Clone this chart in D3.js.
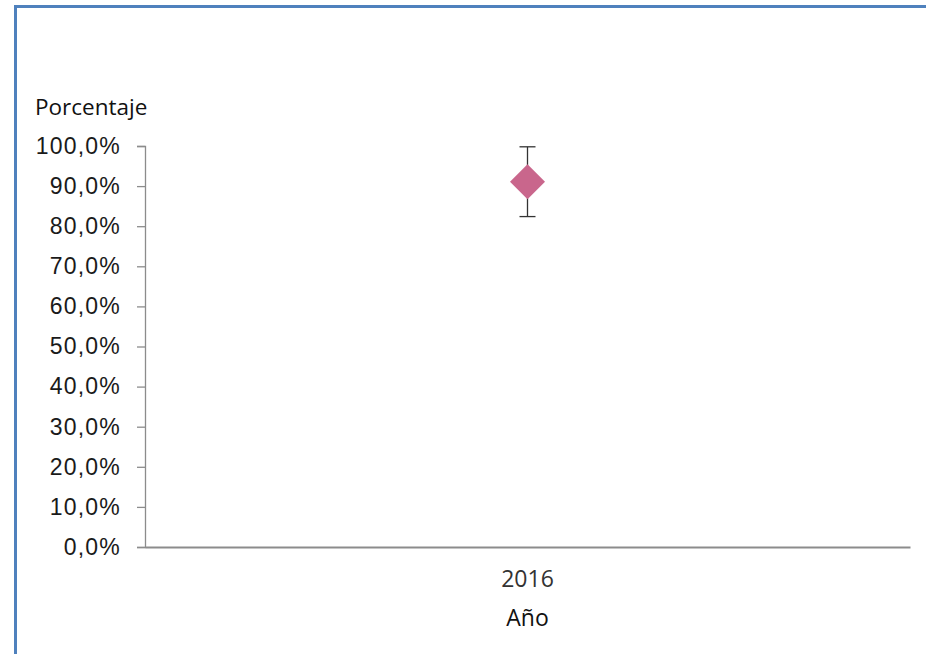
<!DOCTYPE html>
<html>
<head>
<meta charset="utf-8">
<script src="https://cdn.jsdelivr.net/npm/d3@7"></script>
<style>
  body { margin: 0; background: #fff; }
  svg { display: block; }
</style>
</head>
<body>
<script>
// data
var years = ["2016"];
var values = [91.1];
var errLow = [8.7];
var errHigh = [8.7];
var yTicks = [0, 10, 20, 30, 40, 50, 60, 70, 80, 90, 100];

var width = 926, height = 654;
var plotLeft = 145, plotRight = 910, plotTop = 146, plotBottom = 547;

var svg = d3.select("body").append("svg")
    .attr("width", width).attr("height", height);

// outer frame (only left and top are in view)
svg.append("path")
    .attr("d", "M15.5," + height + "V6.5H" + width)
    .attr("fill", "none")
    .attr("stroke", "#4f81bd")
    .attr("stroke-width", 3);

var x = d3.scaleBand().domain(years).range([plotLeft, plotRight]);
var y = d3.scaleLinear().domain([0, 100]).range([plotBottom, plotTop]);

var fmt = function(d) { return d3.format(".1f")(d).replace(".", ",") + "%"; };

var yAxis = svg.append("g")
    .attr("transform", "translate(" + plotLeft + ",0)")
    .call(d3.axisLeft(y).tickValues(yTicks).tickSize(8).tickPadding(16).tickFormat(fmt));
yAxis.selectAll("line, path").attr("stroke", "#8c8c8c").attr("stroke-width", 1.3);
yAxis.selectAll("text")
    .attr("fill", "#1a1a1a")
    .style("font-family", "'Liberation Sans', Arial, sans-serif")
    .style("font-size", "23px")
    .style("letter-spacing", "1.2px");

var xAxis = svg.append("g")
    .attr("transform", "translate(0," + plotBottom + ")")
    .call(d3.axisBottom(x).tickSize(0).tickPadding(24));
xAxis.select("path").attr("stroke", "#8c8c8c").attr("stroke-width", 2);
xAxis.selectAll("text")
    .attr("fill", "#333")
    .style("font-family", "'Open Sans', sans-serif")
    .style("font-size", "23px");

svg.append("text")
    .attr("x", 35).attr("y", 115)
    .attr("fill", "#111")
    .style("font-family", "'Open Sans', sans-serif")
    .style("font-size", "22.5px")
    .text("Porcentaje");

svg.append("text")
    .attr("x", (plotLeft + plotRight) / 2).attr("y", 626)
    .attr("text-anchor", "middle")
    .attr("fill", "#111")
    .style("font-family", "'Open Sans', sans-serif")
    .style("font-size", "23px")
    .text("Año");

// error bars
var eb = svg.selectAll(".err").data(years).enter().append("g").attr("class", "err");
eb.append("line")
    .attr("x1", function(d) { return x(d) + x.bandwidth() / 2; })
    .attr("x2", function(d) { return x(d) + x.bandwidth() / 2; })
    .attr("y1", function(d, i) { return y(values[i] + errHigh[i]); })
    .attr("y2", function(d, i) { return y(values[i] - errLow[i]); });
eb.append("line")
    .attr("x1", function(d) { return x(d) + x.bandwidth() / 2 - 8; })
    .attr("x2", function(d) { return x(d) + x.bandwidth() / 2 + 8; })
    .attr("y1", function(d, i) { return y(values[i] + errHigh[i]); })
    .attr("y2", function(d, i) { return y(values[i] + errHigh[i]); });
eb.append("line")
    .attr("x1", function(d) { return x(d) + x.bandwidth() / 2 - 8; })
    .attr("x2", function(d) { return x(d) + x.bandwidth() / 2 + 8; })
    .attr("y1", function(d, i) { return y(values[i] - errLow[i]); })
    .attr("y2", function(d, i) { return y(values[i] - errLow[i]); });
eb.selectAll("line").attr("stroke", "#333").attr("stroke-width", 1.3);

// diamond markers
svg.selectAll(".pt").data(years).enter().append("path")
    .attr("class", "pt")
    .attr("transform", function(d, i) {
        return "translate(" + (x(d) + x.bandwidth() / 2) + "," + y(values[i]) + ")";
    })
    .attr("d", "M0,-17.5L17.5,0L0,17.5L-17.5,0Z")
    .attr("fill", "#c9668c");
</script>
</body>
</html>
